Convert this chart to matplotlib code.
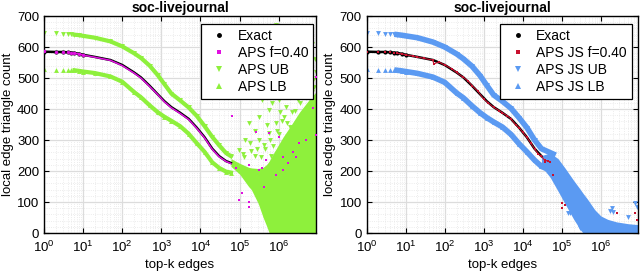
import numpy as np
import matplotlib
matplotlib.use("Agg")
import matplotlib.pyplot as plt
from matplotlib.lines import Line2D
from matplotlib.ticker import LogLocator, MultipleLocator, NullFormatter

plt.rcParams['font.family'] = ['Liberation Sans', 'DejaVu Sans']
plt.rcParams['mathtext.fontset'] = 'custom'
plt.rcParams['mathtext.rm'] = 'Liberation Sans'
plt.rcParams['mathtext.it'] = 'Liberation Sans:italic'

# ---- data ----
rank = [1, 2, 3, 4, 5, 6, 8, 10, 20, 50, 100, 200, 300, 500, 800, 1200, 1800,
        3000, 5000, 8000, 12700, 20000, 30000, 45000, 60000]
exact = [585, 584, 584, 583, 582, 581, 578, 575, 568, 558, 542, 518, 502, 475,
         448, 425, 406, 388, 368, 340, 309, 272, 248, 232, 226]
aps = [586, 584, 583, 583, 581, 580, 578, 574, 567, 557, 540, 516, 500, 473,
       447, 423, 404, 386, 366, 338, 307, 270, 246, 231, 224]
ub_left = [645, 644, 643, 642, 641, 640, 638, 636, 630, 618, 602, 580, 565,
           540, 510, 480, 450, 428, 405, 378, 345, 310, 283, 258, 248]
lb_left = [528, 527, 527, 526, 526, 525, 523, 521, 516, 505, 488, 455, 438,
           412, 390, 375, 362, 345, 320, 290, 262, 228, 210, 198, 195]

# dense part of the APS bound cloud (left)
cloud_l_x = [6e4, 1e5, 1.7e5, 2e5, 3e5, 4e5, 5e5, 5.7e5, 8e5, 1.3e6, 2e6,
             3.4e6, 6e6, 9e6]
cloud_l_hi = [240, 225, 212, 210, 208, 212, 222, 232, 265, 310, 345, 390, 430, 455]
cloud_l_lo = [215, 190, 150, 140, 95, 50, 20, 0, 0, 0, 0, 0, 0, 0]

# scattered APS bound points (left)
ub_pts_x = [6.5e4, 8.5e5, 4.1e6, 9.2e6, 1.7e5, 3.1e5, 6.9e5, 1e6, 1.9e6, 9.5e4,
            3.1e5, 5.6e5, 3.8e5, 5.6e5, 1.55e6, 2.8e6, 5e6, 7.6e6, 1.9e6, 8.5e5,
            4.1e6, 9.2e6, 3e6, 6e6, 8e6, 2.2e6, 1.2e6, 4.5e5, 2.5e5, 1.3e5,
            7e5, 1e6, 3.5e6, 5.5e6, 8.5e6, 2.5e5, 1.4e5, 7.5e5, 1.1e6, 2.4e6,
            1.2e5, 2e5, 3.5e5, 4.2e5, 6e5, 6.5e5, 9e5, 1.4e6, 1.6e6, 2.6e6,
            3.2e6, 4.5e6, 7e6, 8.8e6, 1.8e5, 2.8e5, 5e5, 1.05e6, 7.2e6, 5.2e6]
ub_pts_y = [451, 671, 574, 520, 354, 375, 419, 429, 445, 268,
            300, 322, 429, 397, 407, 440, 483, 494, 343, 354,
            365, 429, 500, 540, 470, 390, 360, 270, 250, 245,
            280, 320, 420, 450, 560, 330, 300, 460, 390, 470,
            255, 265, 245, 285, 300, 250, 330, 375, 355, 395,
            430, 470, 455, 500, 290, 270, 350, 470, 610, 510]

aps_pts_x = [1.7e6, 1.26e6, 2.3e6, 8.5e5, 4.7e5, 3.2e5, 1e6, 3.4e6, 5e6, 4.3e5,
             1.26e6, 2.6e5, 9.2e6, 2.8e6, 7.6e6, 1.15e5, 1.7e5, 6.5e4, 9.2e6,
             5.6e5, 1.7e5, 3.7e5, 9.5e4, 1.7e5, 7.9e4]
aps_pts_y = [225, 246, 262, 187, 235, 203, 311, 289, 300, 149,
             203, 327, 316, 246, 402, 128, 85, 378, 504,
             322, 219, 209, 106, 101, 209]

# right panel
ub_right = [645, 644, 643, 642, 641, 640, 638, 636, 630, 616, 600, 578, 562,
            538, 508, 476, 445, 425, 402, 372, 340, 300, 272, 262, 255]
lb_right = [528, 527, 527, 526, 526, 525, 523, 521, 515, 503, 486, 452, 436,
            410, 388, 372, 358, 342, 318, 288, 262, 235, 215, 205, 200]
js_x = [1, 2, 3, 4, 5, 6, 8, 10, 15, 20, 30, 50, 52, 70, 100, 150, 200, 300,
        400, 500, 700, 1000, 1300, 1800, 2500, 3000, 4000, 5000, 6500, 8000,
        1e4, 1.27e4, 1.6e4, 2e4, 2.5e4, 3e4, 3.6e4, 4.5e4, 5e4]
js_y = [585, 584, 583, 583, 582, 580, 578, 575, 571, 568, 563, 558, 545, 552,
        542, 530, 518, 502, 490, 475, 458, 432, 420, 405, 395, 388, 378, 368,
        350, 340, 325, 309, 290, 272, 255, 248, 235, 232, 228]
cloud_r_x = [3e4, 5e4, 8e4, 1.2e5, 2e5, 3e5, 3.5e5, 4.5e5, 7e5, 1e6, 1.5e6,
             2.5e6, 5e6, 9e6]
cloud_r_hi = [250, 258, 240, 210, 170, 140, 128, 110, 75, 55, 44, 36, 30, 27]
cloud_r_lo = [215, 180, 135, 95, 45, 10, 0, 0, 0, 0, 0, 0, 0, 0]
js_b_pts_x = [1e5, 1.05e5, 1.6e5, 3.3e5, 1.9e6, 7.7e6, 1.45e5, 2.9e5, 2.1e6,
              5e6, 8.6e6, 1.7e6]
js_b_pts_y = [139, 123, 63, 20, 80, 96, 63, 15, 69, 53, 85, 72]
js_pts_x = [1e5, 1e5, 2.6e6, 7.7e6, 8.6e6, 6e4, 3.6e4, 1.2e5]
js_pts_y = [96, 80, 63, 63, 42, 187, 230, 89]

GREEN = '#8ef03c'
BLUE = '#5b9af2'
MAGENTA = '#e010e0'
RED = '#c8102e'


def band(ax, x, y, color, marker, lw):
    x = np.asarray(x, dtype=float)
    y = np.asarray(y, dtype=float)
    dense = x >= 6
    ax.plot(x[dense], y[dense], '-', color=color, lw=lw, zorder=2)
    ax.plot(x, y, ls='none', marker=marker, ms=3.5, mew=0, color=color, zorder=2)


def style(ax, ylab_x):
    ax.set_xscale('log')
    ax.set_xlim(1, 9e6)
    ax.set_ylim(0, 700)
    ax.yaxis.set_major_locator(MultipleLocator(100))
    ax.yaxis.set_minor_locator(MultipleLocator(20))
    ax.xaxis.set_major_locator(LogLocator(base=10, numticks=10))
    ax.xaxis.set_minor_locator(LogLocator(base=10, subs=np.arange(2, 10), numticks=20))
    ax.xaxis.set_minor_formatter(NullFormatter())
    ax.grid(True, which='major', color='#dcdcdc', lw=0.9, zorder=0)
    ax.grid(True, which='minor', color='#e6e6e6', lw=0.6, ls=':', zorder=0)
    ax.set_axisbelow(True)
    ax.tick_params(which='both', direction='in', top=True, right=True, labelsize=9.5)
    ax.tick_params(which='major', length=3.5, width=0.8)
    ax.tick_params(axis='x', which='major', pad=5)
    ax.tick_params(which='minor', length=0)
    for s in ax.spines.values():
        s.set_linewidth(1.0)
    ax.set_title('soc-livejournal', fontsize=10, fontweight='bold', pad=3)
    ax.set_xlabel('top-k edges', fontsize=9.5, labelpad=3)
    ax.set_ylabel('local edge triangle count', fontsize=9.5)
    ax.yaxis.set_label_coords(ylab_x, 0.5)


fig = plt.figure(figsize=(6.4, 2.75), dpi=100)
ax1 = fig.add_axes([0.0688, 0.1527, 0.425, 0.789])
ax2 = fig.add_axes([0.573, 0.1527, 0.424, 0.789])

# left: APS
band(ax1, rank, ub_left, GREEN, 'v', 3)
band(ax1, rank, lb_left, GREEN, '^', 3)
ax1.fill_between(cloud_l_x, cloud_l_lo, cloud_l_hi, color=GREEN, lw=0, zorder=2)
ax1.plot(ub_pts_x, ub_pts_y, ls='none', marker='v', ms=3.5, mew=0, color=GREEN, zorder=2)
ax1.plot(rank, exact, '-', color='black', lw=1.8, zorder=3)
ax1.plot(rank[:8], exact[:8], ls='none', marker='.', ms=4, color='black', zorder=3)
ax1.plot(rank[5:], aps[5:], '-', color=MAGENTA, lw=1.1, zorder=4)
ax1.plot(rank[:8], aps[:8], ls='none', marker='.', ms=3, color=MAGENTA, zorder=4)
ax1.plot(aps_pts_x, aps_pts_y, ls='none', marker='s', ms=1.6, mew=0, color=MAGENTA, zorder=4)
style(ax1, -0.112)

# right: APS JS
band(ax2, rank, ub_right, BLUE, 'v', 4)
band(ax2, rank, lb_right, BLUE, '^', 4)
ax2.fill_between(cloud_r_x, cloud_r_lo, cloud_r_hi, color=BLUE, lw=0, zorder=2)
ax2.plot(js_b_pts_x, js_b_pts_y, ls='none', marker='v', ms=3.5, mew=0, color=BLUE, zorder=2)
ax2.plot(rank[:23], exact[:23], '-', color='black', lw=1.8, zorder=3)
ax2.plot(rank[:8], exact[:8], ls='none', marker='.', ms=4, color='black', zorder=3)
ax2.plot(js_x[5:], js_y[5:], '-', color=RED, lw=0.8, zorder=4)
ax2.plot(js_x, js_y, ls='none', marker='s', ms=1.8, mew=0, color=RED, zorder=4)
ax2.plot(js_pts_x, js_pts_y, ls='none', marker='s', ms=1.8, mew=0, color=RED, zorder=4)
style(ax2, -0.115)


def legend(ax, labels, c_est, c_band, anchor):
    handles = [
        Line2D([], [], ls='none', marker='.', ms=5, color='black'),
        Line2D([], [], ls='none', marker='s', ms=2.5, mew=0, color=c_est),
        Line2D([], [], ls='none', marker='v', ms=4, mew=0, color=c_band),
        Line2D([], [], ls='none', marker='^', ms=4, mew=0, color=c_band),
    ]
    leg = ax.legend(handles, labels, loc='upper right', bbox_to_anchor=anchor,
                    fontsize=10, handlelength=1.8, handletextpad=0.45,
                    borderpad=0.35, labelspacing=0.22, borderaxespad=0,
                    fancybox=False, framealpha=1, edgecolor='black')
    leg.get_frame().set_linewidth(0.9)
    leg.set_zorder(10)


legend(ax1, ['Exact', 'APS f=0.40', 'APS UB', 'APS LB'], MAGENTA, GREEN, (0.989, 0.963))
legend(ax2, ['Exact', 'APS JS f=0.40', 'APS JS UB', 'APS JS LB'], RED, BLUE, (0.977, 0.963))

fig.savefig('out.png', dpi=100)
